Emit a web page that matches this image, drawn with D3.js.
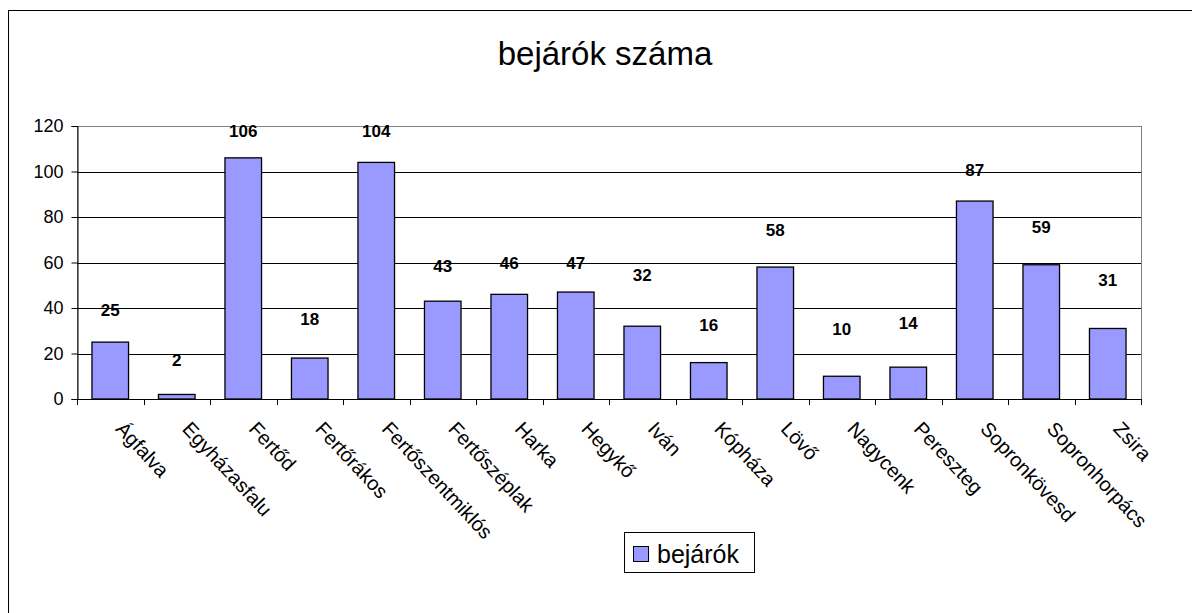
<!DOCTYPE html>
<html>
<head>
<meta charset="utf-8">
<script src="https://cdn.jsdelivr.net/npm/d3@7"></script>
<style>
  body { margin: 0; background: #fff; }
  text { font-family: Arial, "Liberation Sans", sans-serif; }
</style>
</head>
<body>
<svg id="chart" width="1192" height="613"></svg>
<script>
// villages and number of commuters
var villages = ['Ágfalva', 'Egyházasfalu', 'Fertőd', 'Fertőrákos', 'Fertőszentmiklós', 'Fertőszéplak',
  'Harka', 'Hegykő', 'Iván', 'Kópháza', 'Lövő', 'Nagycenk', 'Pereszteg', 'Sopronkövesd', 'Sopronhorpács', 'Zsira'];
var commuters = [25, 2, 106, 18, 104, 43, 46, 47, 32, 16, 58, 10, 14, 87, 59, 31];
// height (in axis units) where each value label sits
var labelLevel = [39, 17, 118, 35, 118, 58.5, 60, 60, 54.5, 32.5, 74.5, 31, 33.5, 100.5, 75.5, 52.5];
var yTicks = [0, 20, 40, 60, 80, 100, 120];
var seriesName = 'bejárók';
var title = 'bejárók száma';

var svg = d3.select('#chart');
// plot area edges (note: "top" is reserved on window, so use other names)
var pLeft = 77, pRight = 1141, pTop = 126, pBottom = 399;

// outer frame
svg.append('rect')
  .attr('x', 8.5).attr('y', 10.5)
  .attr('width', 1300).attr('height', 800)
  .attr('fill', 'none').attr('stroke', '#000');

svg.append('text')
  .attr('x', 605).attr('y', 65)
  .attr('text-anchor', 'middle')
  .attr('font-size', 33)
  .text(title);

var x = d3.scaleBand().domain(villages).range([pLeft, pRight]).paddingInner(0.45).paddingOuter(0.225);
var y = d3.scaleLinear().domain([0, 120]).range([pBottom, pTop]);

// plot area border (grey)
svg.append('rect')
  .attr('x', pLeft + 0.5).attr('y', pTop + 0.5)
  .attr('width', pRight - pLeft).attr('height', pBottom - pTop)
  .attr('fill', 'none').attr('stroke', '#808080');

// gridlines
svg.append('g').selectAll('line')
  .data(yTicks.filter(function(d) { return d > 0 && d < 120; }))
  .enter().append('line')
  .attr('x1', pLeft).attr('x2', pRight)
  .attr('y1', function(d) { return Math.round(y(d)) + 0.5; })
  .attr('y2', function(d) { return Math.round(y(d)) + 0.5; })
  .attr('stroke', '#000');

// bars
svg.append('g').selectAll('rect')
  .data(commuters)
  .enter().append('rect')
  .attr('x', function(d, i) { return x(villages[i]); })
  .attr('y', function(d) { return y(d); })
  .attr('width', x.bandwidth())
  .attr('height', function(d) { return pBottom - y(d); })
  .attr('fill', '#9999ff')
  .attr('stroke', '#000')
  .attr('stroke-width', 1.3);

// y axis
var yAxis = d3.axisLeft(y).tickValues(yTicks).tickSize(6).tickPadding(8);
var ya = svg.append('g').attr('transform', 'translate(' + (pLeft + 0.5) + ',0)').call(yAxis);
ya.select('.domain').attr('stroke', '#000');
ya.selectAll('.tick line').attr('stroke', '#000');
ya.selectAll('.tick text').attr('font-size', 18).attr('font-family', 'Arial, "Liberation Sans", sans-serif').attr('fill', '#000');

// x axis line and ticks on category boundaries
var step = x.step();
svg.append('line')
  .attr('x1', pLeft).attr('x2', pRight + 1)
  .attr('y1', pBottom + 0.5).attr('y2', pBottom + 0.5)
  .attr('stroke', '#000');
svg.append('g').selectAll('line')
  .data(d3.range(villages.length + 1))
  .enter().append('line')
  .attr('x1', function(i) { return Math.round(pLeft + i * step) + 0.5; })
  .attr('x2', function(i) { return Math.round(pLeft + i * step) + 0.5; })
  .attr('y1', pBottom).attr('y2', pBottom + 6)
  .attr('stroke', '#000');

// category labels, rotated
svg.append('g').selectAll('text')
  .data(villages)
  .enter().append('text')
  .attr('transform', function(d) {
    return 'translate(' + (x(d) + x.bandwidth() / 2 + 15) + ',' + (pBottom + 21) + ') rotate(47)';
  })
  .attr('dy', '0.72em')
  .attr('font-size', 20)
  .text(function(d) { return d; });

// value labels
svg.append('g').selectAll('text')
  .data(commuters)
  .enter().append('text')
  .attr('x', function(d, i) { return x(villages[i]) + x.bandwidth() / 2; })
  .attr('y', function(d, i) { return y(labelLevel[i]); })
  .attr('dy', '0.36em')
  .attr('text-anchor', 'middle')
  .attr('font-size', 17)
  .attr('font-weight', 'bold')
  .text(function(d) { return d; });

// legend
var lg = svg.append('g').attr('transform', 'translate(624,532)');
lg.append('rect')
  .attr('x', 0.5).attr('y', 0.5).attr('width', 130).attr('height', 40)
  .attr('fill', '#fff').attr('stroke', '#000');
lg.append('rect')
  .attr('x', 9.5).attr('y', 14.5).attr('width', 15).attr('height', 15)
  .attr('fill', '#9999ff').attr('stroke', '#000');
lg.append('text')
  .attr('x', 33).attr('y', 31)
  .attr('font-size', 25)
  .text(seriesName);
</script>
</body>
</html>
